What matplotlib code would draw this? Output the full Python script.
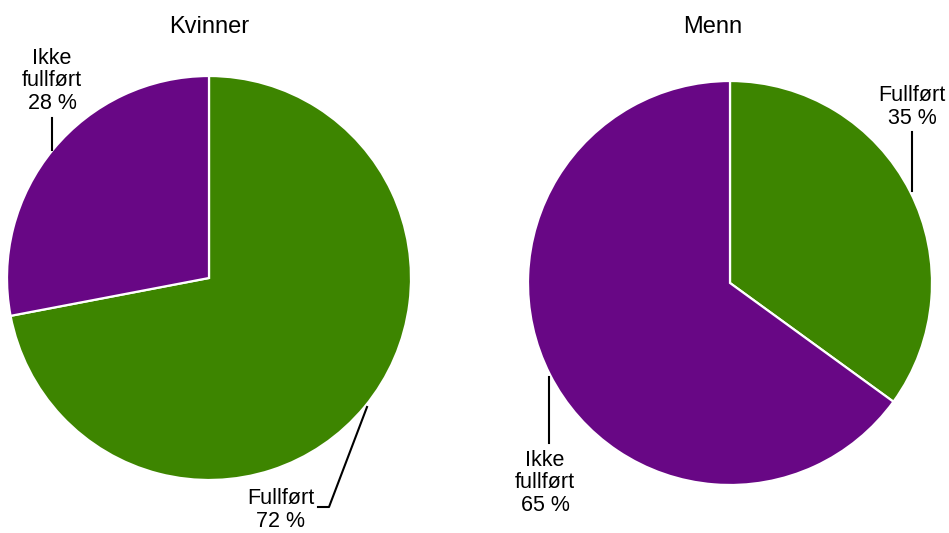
import matplotlib.pyplot as plt

plt.rcParams['font.family'] = ['Liberation Sans', 'DejaVu Sans']

groups = ["Kvinner", "Menn"]
categories = ["Fullført", "Ikke\nfullført"]
kvinner = [72, 28]
menn = [35, 65]
colors = ["#3d8500", "#680785"]

W, H, R = 949, 533, 202
fig = plt.figure(figsize=(W / 100, H / 100), dpi=100)


def make_ax(cx, cy, half=260):
    ax = fig.add_axes([(cx - half) / W, (H - cy - half) / H, 2 * half / W, 2 * half / H])
    return ax, half / R


def px(ax_c, x, y):
    # pixel position -> data units (radius = 1)
    cx, cy = ax_c
    return ((x - cx) / R, (cy - y) / R)


# label placement: (text pos, line points) in pixels
layouts = {
    "Kvinner": dict(center=(209, 278), title=(209, 27),
                    labels=[((281, 510), [(318, 507), (329, 507), (367, 407)]),
                            ((52, 81), [(52, 118), (52, 150)])]),
    "Menn": dict(center=(730, 283), title=(713, 27),
                 labels=[((912, 107), [(912, 132), (912, 191)]),
                         ((545, 483), [(549, 443), (549, 377)])]),
}

for name, vals in zip(groups, [kvinner, menn]):
    lay = layouts[name]
    c = lay["center"]
    ax, lim = make_ax(*c)
    ax.pie(vals, colors=colors, startangle=90, counterclock=False, radius=1,
           wedgeprops=dict(edgecolor='white', linewidth=1.6))
    ax.set_xlim(-lim, lim)
    ax.set_ylim(-lim, lim)
    ax.axis('off')
    tx, ty = px(c, *lay["title"])
    ax.text(tx, ty, name, ha='center', va='center', fontsize=17, clip_on=False)
    for cat, v, (tpos, pts) in zip(categories, vals, lay["labels"]):
        lx, ly = px(c, *tpos)
        ax.text(lx, ly, f"{cat}\n{v} %", ha='center', va='center', fontsize=15.5,
                linespacing=1.1, clip_on=False)
        xs, ys = zip(*[px(c, *p) for p in pts])
        ax.plot(xs, ys, color='black', linewidth=1.5, clip_on=False)

fig.savefig("out.png", dpi=100)
